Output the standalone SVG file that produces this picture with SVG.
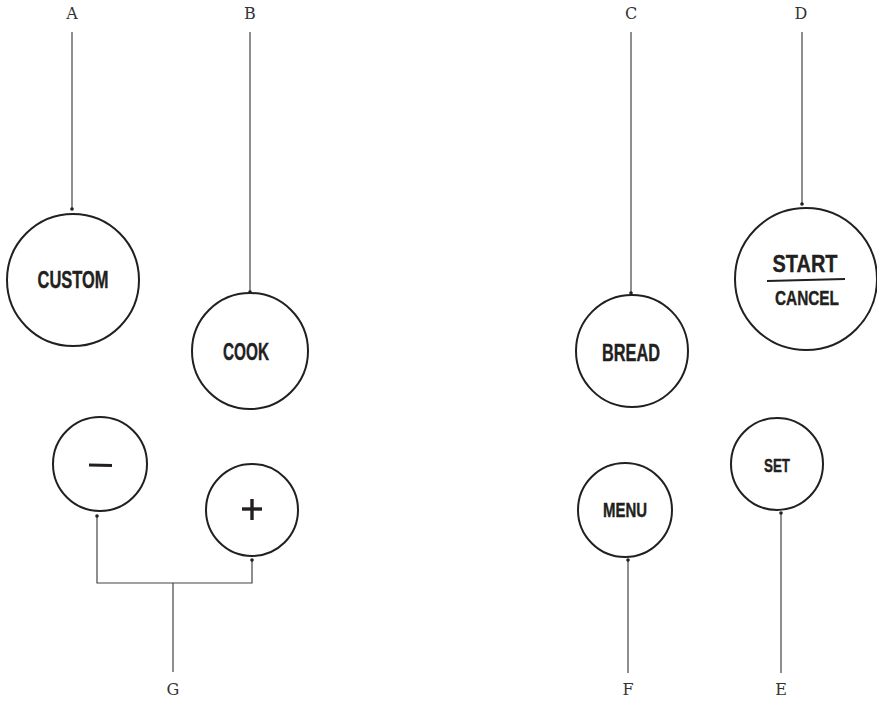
<svg xmlns="http://www.w3.org/2000/svg" width="877" height="703" viewBox="0 0 877 703">
<style>
.btn{fill:#fff;stroke:#231f20;stroke-width:2}
.bt{font-family:"Liberation Sans",Arial,sans-serif;font-weight:bold;fill:#231f20;stroke:#231f20;stroke-width:0.4;text-anchor:middle}
.lbl{font-family:"DejaVu Serif","Liberation Serif",serif;font-size:16px;fill:#333;text-anchor:middle}
.ln{fill:none;stroke:#444;stroke-width:1.2}
.dot{fill:#231f20}
</style>
<rect width="877" height="703" fill="#fff"/>
<g id="labels">
<text class="lbl" x="72" y="19">A</text>
<text class="lbl" x="250" y="19">B</text>
<text class="lbl" x="631" y="19">C</text>
<text class="lbl" x="801" y="19">D</text>
<text class="lbl" x="781" y="695">E</text>
<text class="lbl" x="628" y="695">F</text>
<text class="lbl" x="173" y="695">G</text>
</g>
<g id="connectors">
<line class="ln" x1="72" y1="32" x2="72" y2="209"/>
<circle class="dot" cx="72" cy="209" r="1.8"/>
<line class="ln" x1="250" y1="32" x2="250" y2="292"/>
<circle class="dot" cx="250" cy="292" r="1.8"/>
<line class="ln" x1="631" y1="32" x2="631" y2="293"/>
<circle class="dot" cx="631" cy="293" r="1.8"/>
<line class="ln" x1="802" y1="32" x2="802" y2="204"/>
<circle class="dot" cx="802" cy="204" r="1.8"/>
<line class="ln" x1="628" y1="560" x2="628" y2="673"/>
<circle class="dot" cx="628" cy="560" r="1.8"/>
<line class="ln" x1="781" y1="513" x2="781" y2="673"/>
<circle class="dot" cx="781" cy="513" r="1.8"/>
<polyline class="ln" points="97,516 97,583 252,583 252,560"/>
<line class="ln" x1="173" y1="583" x2="173" y2="672"/>
<circle class="dot" cx="97" cy="516" r="1.8"/>
<circle class="dot" cx="252" cy="560" r="1.8"/>
</g>
<g id="custom">
<circle class="btn" cx="73" cy="280" r="66"/>
<text class="bt" x="73" y="288" font-size="24" textLength="71" lengthAdjust="spacingAndGlyphs">CUSTOM</text>
</g>
<g id="cook">
<circle class="btn" cx="250" cy="351" r="58"/>
<text class="bt" x="246" y="360" font-size="23" textLength="46" lengthAdjust="spacingAndGlyphs">COOK</text>
</g>
<g id="bread">
<circle class="btn" cx="632" cy="351" r="56"/>
<text class="bt" x="631" y="361" font-size="24" textLength="58" lengthAdjust="spacingAndGlyphs">BREAD</text>
</g>
<g id="start-cancel">
<circle class="btn" cx="806" cy="279" r="71"/>
<text class="bt" x="805" y="272" font-size="24" textLength="65" lengthAdjust="spacingAndGlyphs">START</text>
<line x1="767" y1="281" x2="845" y2="279" stroke="#231f20" stroke-width="2"/>
<text class="bt" x="807" y="305" font-size="21" font-weight="normal" textLength="64" lengthAdjust="spacingAndGlyphs">CANCEL</text>
</g>
<g id="minus">
<circle class="btn" cx="100" cy="464" r="47"/>
<line x1="89" y1="465" x2="112" y2="465.5" stroke="#231f20" stroke-width="3.2"/>
</g>
<g id="plus">
<circle class="btn" cx="252" cy="510" r="46"/>
<line x1="242" y1="509" x2="262" y2="509" stroke="#231f20" stroke-width="3.4"/>
<line x1="252" y1="499" x2="252" y2="520" stroke="#231f20" stroke-width="3.4"/>
</g>
<g id="menu">
<circle class="btn" cx="625" cy="510" r="47"/>
<text class="bt" x="625" y="517" font-size="20" textLength="44" lengthAdjust="spacingAndGlyphs">MENU</text>
</g>
<g id="set">
<circle class="btn" cx="777" cy="464" r="46"/>
<text class="bt" x="777" y="472" font-size="19" textLength="26" lengthAdjust="spacingAndGlyphs">SET</text>
</g>
</svg>
